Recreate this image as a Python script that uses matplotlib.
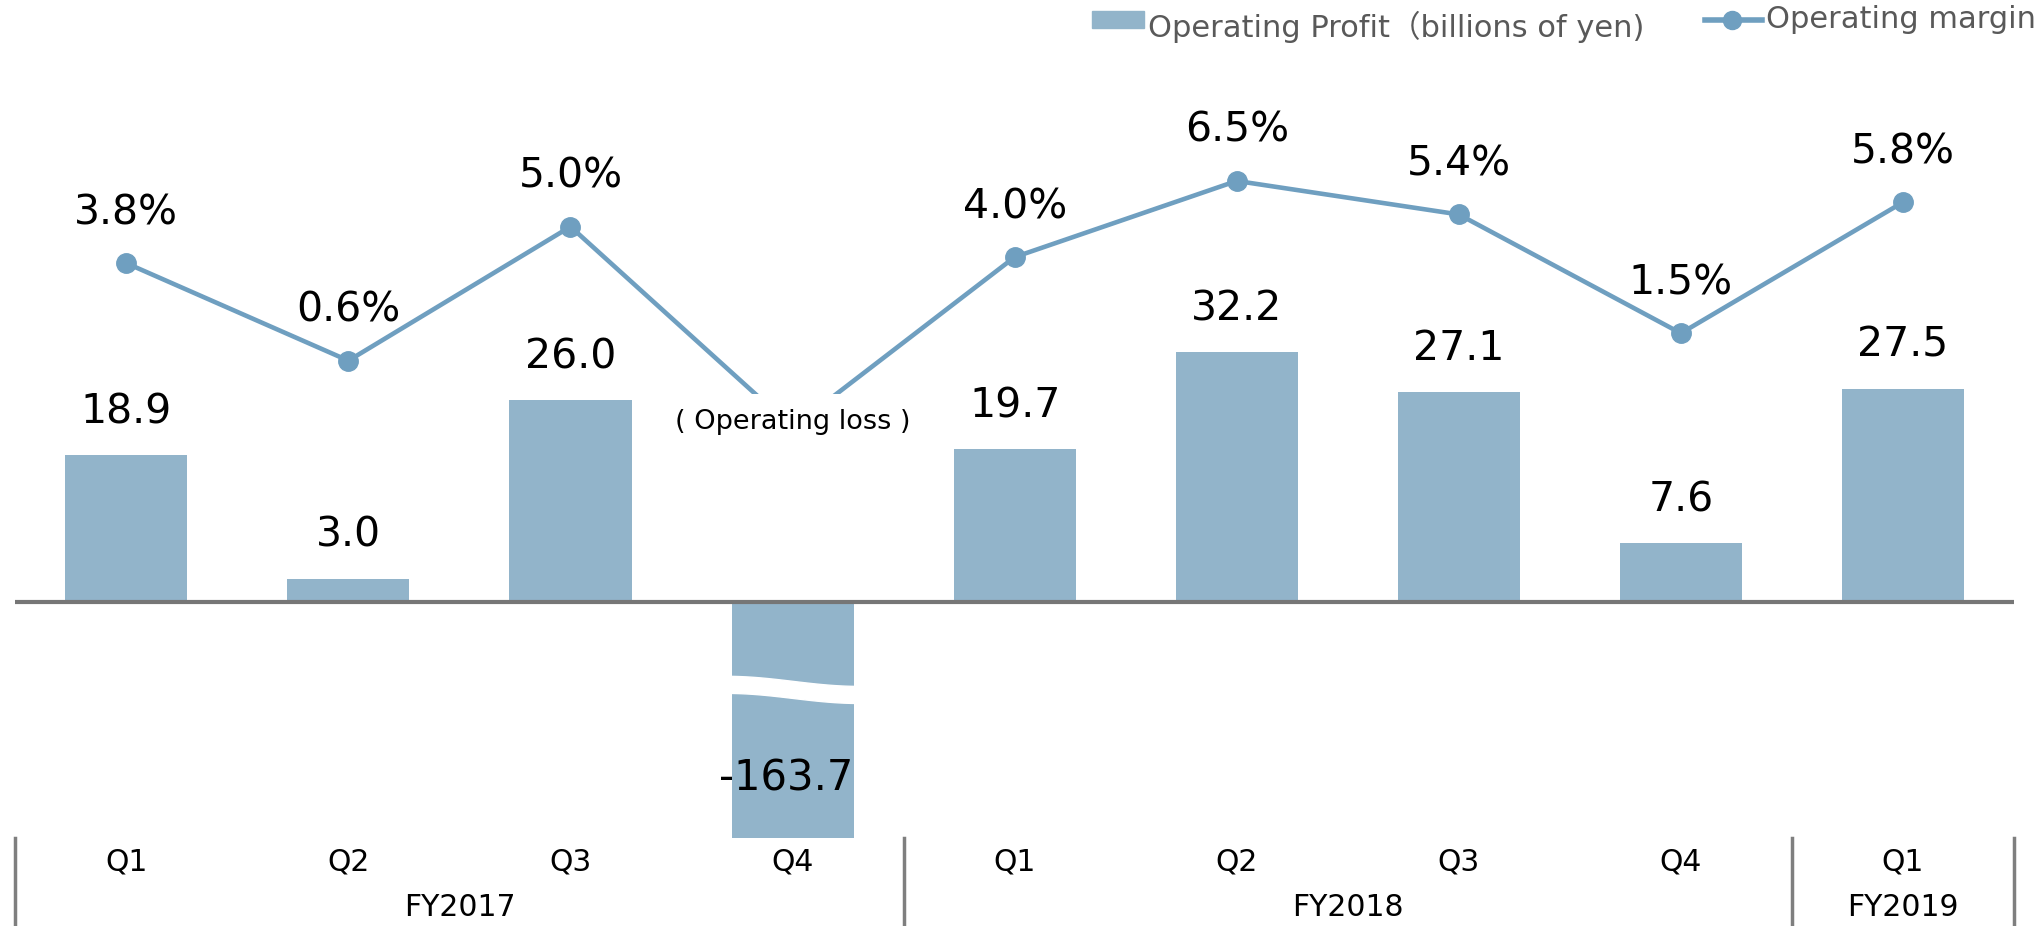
import numpy as np
import matplotlib
matplotlib.use("Agg")
import matplotlib.pyplot as plt
from matplotlib.patches import Rectangle
from matplotlib.lines import Line2D

quarters = ["Q1", "Q2", "Q3", "Q4", "Q1", "Q2", "Q3", "Q4", "Q1"]
years = ["FY2017", "FY2018", "FY2019"]
year_span = [(0, 3), (4, 7), (8, 8)]
profit = [18.9, 3.0, 26.0, -163.7, 19.7, 32.2, 27.1, 7.6, 27.5]
margin = [3.8, 0.6, 5.0, -1.6, 4.0, 6.5, 5.4, 1.5, 5.8]
margin_labels = ["3.8%", "0.6%", "5.0%", None, "4.0%", "6.5%", "5.4%", "1.5%", "5.8%"]

bar_c = "#92b4ca"
line_c = "#6f9fc0"
fams = ["DejaVu Sans", "Noto Sans CJK JP"]

W, H = 2041, 926
fig = plt.figure(figsize=(W / 100, H / 100), dpi=100)
# axes placed so that x=-0.5..8.5 spans the separators, bottom at bar cut
ax = fig.add_axes([15.3 / W, (H - 838) / H, (2014 - 15.3) / W, 838 / H])
ax.set_xlim(-0.5, 8.5)
ax.set_ylim(-30.4, 77.6)
ax.axis("off")

x = np.arange(len(profit))
ax.bar(x, profit, width=0.55, color=bar_c, zorder=2)
ax.axhline(0, color="#767676", lw=3, zorder=3)

# wavy break on the big loss bar
i = profit.index(min(profit))
xs = np.linspace(i - 0.3, i + 0.3, 60)
t = (xs - xs[0]) / (xs[-1] - xs[0])
wave = np.cos(np.pi * t) * 0.65
top = -10.15 + wave
ax.fill_between(xs, top, top - 2.2, color="white", zorder=4)

for xi, v in zip(x, profit):
    if v >= 0:
        ax.annotate(f"{v:.1f}", (xi, v), xytext=(0, 31), textcoords="offset points",
                    ha="center", va="center", fontsize=29.5, zorder=6)
    else:
        ax.text(xi - 0.03, -22.7, f"{v:.1f}", ha="center", va="center", fontsize=30, zorder=6)

ax2 = ax.twinx()
ax2.set_ylim(-15.07, 12.44)
ax2.axis("off")
ax2.plot(x, margin, color=line_c, lw=3.3, marker="o", ms=14, zorder=3)
for xi, v, lab in zip(x, margin, margin_labels):
    if lab:
        ax2.annotate(lab, (xi, v), xytext=(0, 36), textcoords="offset points",
                     ha="center", va="center", fontsize=29.5)
ax2.text(i, margin[i] + 0.2, "( Operating loss )", ha="center", va="center", fontsize=19.5,
         bbox=dict(boxstyle="square,pad=0.55", fc="white", ec="none"), zorder=5)

# category axis below
for b in [-0.5, 3.5, 7.5, 8.5]:
    ax.plot([b, b], [0, -1], transform=ax.get_xaxis_transform(), color="#7f7f7f", lw=2.5,
            clip_on=False)
for xi, q in zip(x, quarters):
    fig.text(ax.transData.transform((xi, 0))[0] / W, 1 - 862 / H, q, ha="center", va="center",
             fontsize=21.5)
for (a, b), yl in zip(year_span, years):
    fig.text(ax.transData.transform(((a + b) / 2, 0))[0] / W, 1 - 907 / H, yl, ha="center",
             va="center", fontsize=21.5)

# legend
fig.patches.append(Rectangle((1092 / W, 1 - 28 / H), 52 / W, 17 / H, color=bar_c,
                             transform=fig.transFigure))
fig.text(1148 / W, 1 - 37 / H, "Operating Profit（billions of yen)", ha="left", va="baseline",
         fontsize=22, color="#595959", family=fams)
fig.lines.append(Line2D([1705 / W, 1762 / W], [1 - 20 / H, 1 - 20 / H], color=line_c, lw=4,
                        transform=fig.transFigure))
fig.lines.append(Line2D([1732 / W], [1 - 20 / H], color=line_c, marker="o", ms=13,
                        transform=fig.transFigure))
fig.text(1766 / W, 1 - 28 / H, "Operating margin", ha="left", va="baseline",
         fontsize=22, color="#595959", family=fams)

fig.savefig("out.png", dpi=100)
